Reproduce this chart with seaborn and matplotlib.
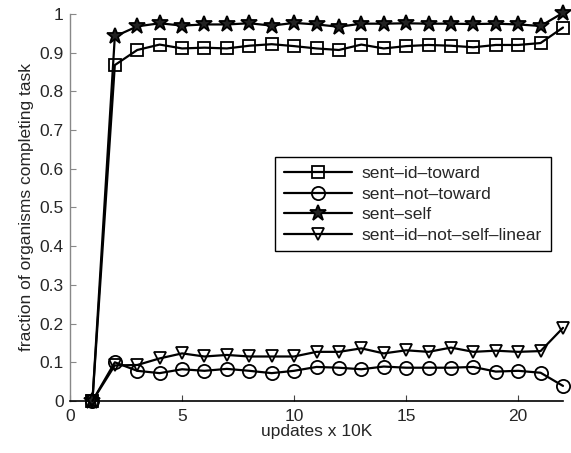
import numpy as np
import pandas as pd
import matplotlib
matplotlib.use("Agg")
import matplotlib.pyplot as plt
import seaborn as sns

updates = list(range(1, 23))
sent_id_toward = [0.0, 0.868, 0.907, 0.921, 0.911, 0.913, 0.911, 0.918, 0.922, 0.917,
                  0.911, 0.907, 0.921, 0.911, 0.917, 0.920, 0.918, 0.914, 0.920, 0.920,
                  0.925, 0.965]
sent_not_toward = [0.0, 0.100, 0.078, 0.072, 0.082, 0.078, 0.083, 0.078, 0.072, 0.078,
                   0.088, 0.086, 0.082, 0.089, 0.086, 0.086, 0.086, 0.088, 0.076, 0.078,
                   0.073, 0.039]
sent_self = [0.0, 0.942, 0.968, 0.976, 0.970, 0.973, 0.973, 0.976, 0.970, 0.977,
             0.973, 0.967, 0.975, 0.975, 0.976, 0.975, 0.975, 0.974, 0.975, 0.973,
             0.969, 1.003]
sent_id_not_self_linear = [0.0, 0.092, 0.093, 0.110, 0.123, 0.115, 0.119, 0.115, 0.115, 0.115,
                           0.127, 0.127, 0.136, 0.123, 0.131, 0.127, 0.138, 0.127, 0.130, 0.127,
                           0.129, 0.189]

series_names = ["sent\u2013id\u2013toward", "sent\u2013not\u2013toward", "sent\u2013self",
                "sent\u2013id\u2013not\u2013self\u2013linear"]
series_values = [sent_id_toward, sent_not_toward, sent_self, sent_id_not_self_linear]
markers = ["s", "o", "*", "v"]
msizes = [8, 9.5, 12, 9]
faces = ["none", "none", "#222222", "none"]

sns.set_style("ticks")
plt.rcParams["font.family"] = ["Liberation Sans", "DejaVu Sans"]
plt.rcParams["xtick.direction"] = "in"
plt.rcParams["ytick.direction"] = "in"

fig = plt.figure(figsize=(5.71, 4.53), dpi=100)
ax = fig.add_axes([0.1226, 0.1148, 0.8634, 0.8543])

rows = []
for name, vals in zip(series_names, series_values):
    for u, v in zip(updates, vals):
        rows.append({"updates": u, "frac": v, "series": name})
df = pd.DataFrame(rows)

for name, mk, ms, fc in zip(series_names, markers, msizes, faces):
    sub = df[df["series"] == name]
    sns.lineplot(data=sub, x="updates", y="frac", ax=ax, color="black", lw=1.6,
                 marker=mk, markersize=ms, markerfacecolor=fc, markeredgecolor="black",
                 markeredgewidth=1.3, label=name, clip_on=False, zorder=3)

ax.set_xlim(0, 22)
ax.set_ylim(0, 1)
ax.set_xticks([0, 5, 10, 15, 20])
ax.set_xticklabels(["0", "5", "10", "15", "20"])
yt = [0, 0.1, 0.2, 0.3, 0.4, 0.5, 0.6, 0.7, 0.8, 0.9, 1]
ax.set_yticks(yt)
ax.set_yticklabels(["0", "0.1", "0.2", "0.3", "0.4", "0.5", "0.6", "0.7", "0.8", "0.9", "1"])
ax.tick_params(labelsize=12.5, length=4, width=0.8)
ax.tick_params(axis="y", color="#888888", pad=4.5)
ax.tick_params(axis="x", color="#444444", pad=6)
for s in ["top", "right"]:
    ax.spines[s].set_visible(False)
ax.spines["left"].set_linewidth(1.0)
ax.spines["left"].set_color("#888888")
ax.spines["bottom"].set_linewidth(1.2)
ax.spines["bottom"].set_color("black")
ax.set_xlabel("updates x 10K", fontsize=12.5, labelpad=0)
ax.set_ylabel("fraction of organisms completing task", fontsize=12.5, labelpad=4)

leg = ax.legend(loc="upper left", bbox_to_anchor=(0.416, 0.63), fontsize=12.6,
                handlelength=3.9, frameon=True, fancybox=False, edgecolor="black",
                framealpha=1, borderpad=0.5, labelspacing=0.3, handletextpad=0.55,
                borderaxespad=0)
leg.get_frame().set_linewidth(1.0)

fig.savefig("out.png", dpi=100)
